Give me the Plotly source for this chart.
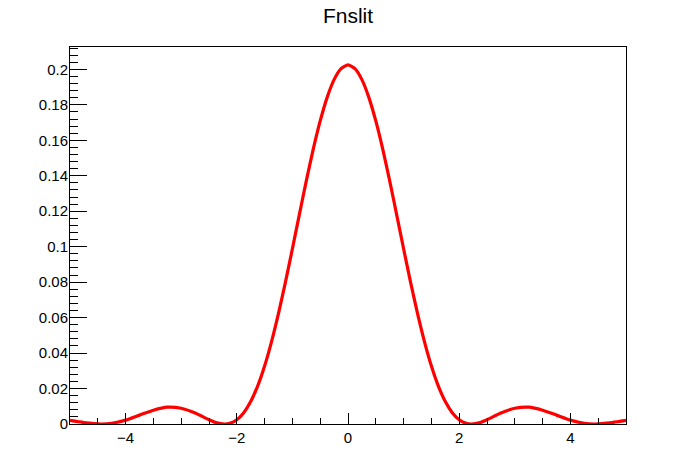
import plotly.graph_objects as go

# x positions (units of the horizontal axis) and curve values
x_vals = [-5.0, -4.75, -4.44, -4.25, -4.0, -3.75, -3.5, -3.25, -3.0, -2.75, -2.5, -2.375, -2.22, -2.125,
          -2.0, -1.875, -1.75, -1.625, -1.5, -1.375, -1.25, -1.125, -1.0, -0.875, -0.75, -0.625,
          -0.5, -0.375, -0.25, -0.125, 0.0,
          0.125, 0.25, 0.375, 0.5, 0.625, 0.75, 0.875, 1.0, 1.125, 1.25, 1.375, 1.5, 1.625,
          1.75, 1.875, 2.0, 2.125, 2.22, 2.375, 2.5, 2.75,
          3.0, 3.25, 3.5, 3.75, 4.0, 4.25, 4.44, 4.75, 5.0]
y_vals = [0.0020, 0.0008, 0.0000, 0.0004, 0.0022, 0.0050, 0.0078, 0.0095, 0.0089, 0.0062, 0.0024, 0.0008, 0.0000, 0.0004,
          0.0024, 0.0064, 0.0127, 0.0214, 0.0327, 0.0465, 0.0624, 0.0800, 0.0988, 0.1181, 0.1371, 0.1550,
          0.1709, 0.1842, 0.1942, 0.2004, 0.2025,
          0.2004, 0.1942, 0.1842, 0.1709, 0.1550, 0.1371, 0.1181, 0.0988, 0.0800, 0.0624, 0.0465, 0.0327, 0.0214,
          0.0127, 0.0064, 0.0024, 0.0004, 0.0000, 0.0008, 0.0024, 0.0062,
          0.0089, 0.0095, 0.0078, 0.0050, 0.0022, 0.0004, 0.0000, 0.0008, 0.0020]

title_text = "Fnslit"
x_range = [-5.0, 5.0]
y_range = [0.0, 0.2126]

fig = go.Figure()
fig.add_trace(go.Scatter(
    x=x_vals, y=y_vals, mode="lines",
    line=dict(color="#ff0000", width=3.2, shape="spline", smoothing=0.6),
    hoverinfo="skip", showlegend=False,
))

font_family = "Liberation Sans, Arial, Helvetica, sans-serif"

fig.update_layout(
    width=696, height=472,
    margin=dict(l=70, r=70, t=47, b=48),
    paper_bgcolor="white", plot_bgcolor="white",
    title=dict(text=title_text, x=0.5, xanchor="center", y=1 - 15.5 / 472, yanchor="middle",
               font=dict(family=font_family, size=21, color="black")),
    font=dict(family=font_family, color="black"),
    showlegend=False,
)

fig.update_xaxes(
    range=x_range, showgrid=False, zeroline=False,
    showline=True, linecolor="black", linewidth=1, mirror=True,
    ticks="inside", ticklen=11, tickcolor="black", tickwidth=1,
    tick0=0, dtick=2,
    minor=dict(ticks="inside", ticklen=6, dtick=0.5, tick0=0, tickcolor="black", showgrid=False),
    tickfont=dict(family=font_family, size=15, color="black"),
)
fig.update_yaxes(
    range=y_range, showgrid=False, zeroline=False,
    showline=True, linecolor="black", linewidth=1, mirror=True,
    ticks="inside", ticklen=17, tickcolor="black", tickwidth=1,
    tick0=0, dtick=0.02,
    minor=dict(ticks="inside", ticklen=8, dtick=0.004, tick0=0, tickcolor="black", showgrid=False),
    tickfont=dict(family=font_family, size=15, color="black"),
    ticklabelstandoff=-2,
)

fig.write_html("out.html", config={"displayModeBar": False, "staticPlot": True},
               post_script="document.body.style.margin='0';")
